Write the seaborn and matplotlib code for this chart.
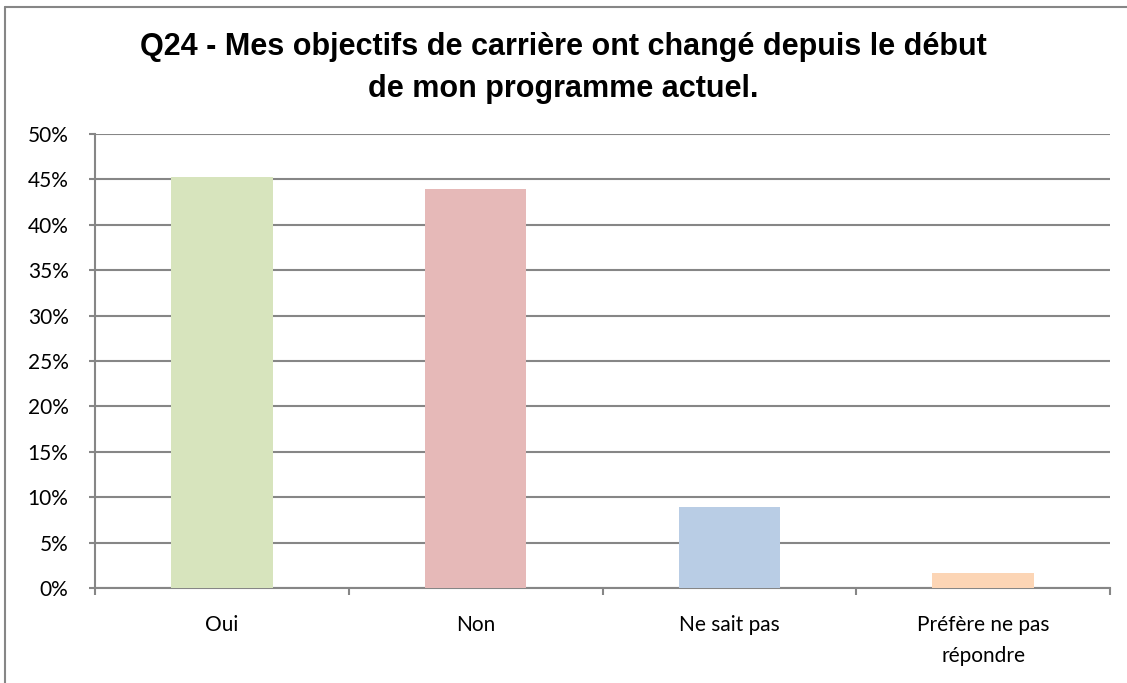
import matplotlib.pyplot as plt
import matplotlib.ticker as mticker
from matplotlib.lines import Line2D
import seaborn as sns
import pandas as pd

categories = ['Oui', 'Non', 'Ne sait pas', 'Préfère ne pas\nrépondre']
values = [0.453, 0.439, 0.089, 0.017]
colors = ['#D7E4BD', '#E6B9B8', '#B9CDE5', '#FCD5B5']
title = 'Q24 - Mes objectifs de carrière ont changé depuis le début\nde mon programme actuel.'

df = pd.DataFrame({'cat': categories, 'val': values})

sns.set_style('white')
plt.rcParams['font.family'] = ['Lato', 'DejaVu Sans']

fig = plt.figure(figsize=(11.27, 6.83), dpi=100)
ax = fig.add_axes([95 / 1127, 1 - 588 / 683, (1110 - 95) / 1127, (588 - 134) / 683])

sns.barplot(data=df, x='cat', y='val', hue='cat', palette=colors, legend=False,
            width=0.4, saturation=1, linewidth=0, ax=ax, zorder=3)

ax.set_ylim(0, 0.5)
ax.set_xlim(-0.5, len(categories) - 0.5)
ax.yaxis.set_major_locator(mticker.MultipleLocator(0.05))
ax.yaxis.set_major_formatter(mticker.FuncFormatter(lambda v, p: f'{v * 100:.0f}%'))
ax.grid(axis='y', color='#868686', linewidth=1.5, zorder=0)
ax.set_axisbelow(True)

for side in ['top', 'right']:
    ax.spines[side].set_visible(False)
for side in ['left', 'bottom']:
    ax.spines[side].set_color('#868686')
    ax.spines[side].set_linewidth(1.5)

ax.tick_params(axis='y', which='major', left=True, length=4, width=1.5, color='#868686',
               pad=15, labelsize=15, labelcolor='black')
ax.xaxis.set_minor_locator(mticker.FixedLocator([i - 0.5 for i in range(len(categories) + 1)]))
ax.tick_params(axis='x', which='minor', bottom=True, length=5, width=1.5, color='#868686')
ax.tick_params(axis='x', which='major', bottom=False, pad=16, labelsize=15, labelcolor='black')
for lbl in ax.get_xticklabels():
    lbl.set_linespacing(1.7)
ax.set_xlabel('')
ax.set_ylabel('')

fig.text(0.5, 1 - 68 / 683, title, ha='center', va='center', fontsize=22, fontweight='bold',
         color='black', family=['Liberation Sans', 'DejaVu Sans'], linespacing=1.55)

# chart area frame (only top and left edges fall inside the picture)
fig.add_artist(Line2D([5 / 1127, 1], [1 - 7 / 683, 1 - 7 / 683], transform=fig.transFigure,
                      color='#868686', linewidth=1.5))
fig.add_artist(Line2D([5 / 1127, 5 / 1127], [0, 1 - 7 / 683], transform=fig.transFigure,
                      color='#868686', linewidth=1.5))

fig.savefig('out.png', dpi=100, facecolor='white')
